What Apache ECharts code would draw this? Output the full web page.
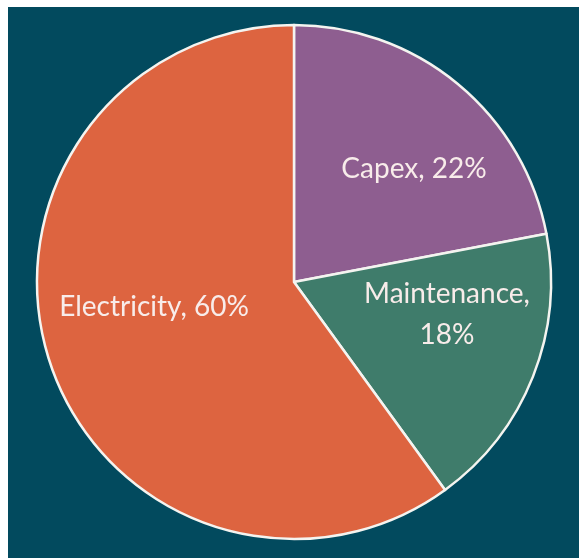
<!DOCTYPE html>
<html>
<head>
<meta charset="utf-8">
<script src="https://cdn.jsdelivr.net/npm/echarts@6/dist/echarts.min.js"></script>
<style>
html,body{margin:0;padding:0;background:#ffffff;width:579px;height:558px;overflow:hidden;}
#chart{position:absolute;left:8px;top:7px;width:571px;height:551px;background:#024a5e;}
</style>
</head>
<body>
<div id="chart"></div>
<script>
const categories = ['Capex', 'Maintenance', 'Electricity'];
const values = [22, 18, 60];
const colors = ['#8e5e90', '#3f7c6b', '#dd6440'];
const wrapAfterComma = ['Maintenance'];

const CX = 286, CY = 275, R = 257;
// label anchor offsets from pie centre (label placement only)
const labelOffsets = [[120, -113], [153, 32], [-140, 25]];

const chart = echarts.init(document.getElementById('chart'), null, {renderer: 'canvas'});
chart.setOption({
  backgroundColor: '#024a5e',
  animation: false,
  series: [{
    type: 'pie',
    center: [CX, CY],
    radius: [0, R],
    startAngle: 90,
    clockwise: true,
    data: categories.map((c, i) => ({name: c, value: values[i], itemStyle: {color: colors[i]}})),
    itemStyle: {borderColor: '#f4f4f0', borderWidth: 2.5},
    label: {
      show: true,
      position: 'inside',
      color: '#f8ecea',
      fontFamily: 'Lato',
      fontSize: 28,
      lineHeight: 41,
      align: 'center',
      verticalAlign: 'middle',
      formatter: p => p.name + ',' + (wrapAfterComma.includes(p.name) ? '\n' : ' ') + p.value + '%'
    },
    labelLine: {show: false},
    labelLayout: p => ({x: CX + labelOffsets[p.dataIndex][0], y: CY + labelOffsets[p.dataIndex][1]}),
    emphasis: {disabled: true}
  }]
});
</script>
</body>
</html>
